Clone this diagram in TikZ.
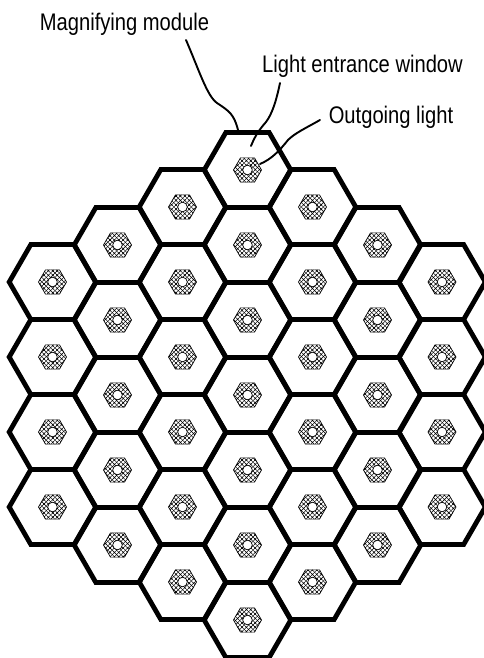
\documentclass[tikz,border=0pt]{standalone}
\usepackage{fontspec}
\setmainfont[FakeStretch=0.84]{Liberation Sans}
\usetikzlibrary{positioning,patterns}

\pgfdeclarepatternformonly{coremesh}{\pgfqpoint{-1pt}{-1pt}}{\pgfqpoint{5.4pt}{5.4pt}}{\pgfqpoint{4.4pt}{4.4pt}}{
  \pgfsetlinewidth{0.4pt}
  \pgfpathmoveto{\pgfqpoint{-1pt}{-1pt}}
  \pgfpathlineto{\pgfqpoint{5.4pt}{5.4pt}}
  \pgfpathmoveto{\pgfqpoint{-1pt}{5.4pt}}
  \pgfpathlineto{\pgfqpoint{5.4pt}{-1pt}}
  \pgfusepath{stroke}
}
\tikzset{
  hexwall/.style={line width=4.8pt,line join=miter},
  hexcore/.style={line width=0.7pt,pattern=coremesh,pattern color=black},
  leader/.style={line width=1.9pt,line cap=round},
  calltext/.style={font=\fontsize{24}{26}\selectfont,inner sep=0pt,anchor=base}
}
\newcommand{\hexcell}[3]{%
  \draw[hexwall] (#1,#2)+(0:43.3) -- +(60:43.3) -- +(120:43.3) -- +(180:43.3)
    -- +(240:43.3) -- +(300:43.3) -- cycle;
  \draw[hexcore] (#1,#2)+(0:14) -- +(60:14) -- +(120:14) -- +(180:14)
    -- +(240:14) -- +(300:14) -- cycle;
  \draw[line width=0.7pt,fill=white] (#1,#2) circle (4.8);
  \coordinate (cell#3) at (#1,#2);
}

\begin{document}
\begin{tikzpicture}[x=1pt,y=-1pt]
\useasboundingbox (0,0) rectangle (484,658);
\fill[white] (0,0) rectangle (484,658);
% columns: x, first row y, number of cells
\foreach \colx/\firsty/\ncell in {52.5/282/4,117.5/245/5,182.5/207/6,247.5/170/7,312.5/207/6,377.5/245/5,442/282/4}{
  \foreach \i in {1,...,\ncell}{
    \pgfmathsetmacro{\celly}{\firsty+75*(\i-1)}
    \hexcell{\colx}{\celly}{\i}
  }
}
% labels
\node[calltext] (magnify) at (124.5,31) {Magnifying module};
\node[calltext] (window) at (362.5,73) {Light entrance window};
\node[calltext] (outgoing) at (391,124) {Outgoing light};
\coordinate (magnifyend) at (238,130);
\coordinate (windowend) at (251,146);
\coordinate (outgoingend) at (260,164);
% leader lines
\draw[leader] (186,40) .. controls (199,70) and (207,96) .. (217,103)
  .. controls (229,111) and (234,114) .. (magnifyend);
\draw[leader] (280,83) .. controls (276,102) and (272,114) .. (266,122)
  .. controls (259,130) and (255,136) .. (windowend);
\draw[leader] (320,120) .. controls (306,128) and (295,133) .. (288,140)
  .. controls (280,150) and (272,159) .. (outgoingend);
\end{tikzpicture}
\end{document}
